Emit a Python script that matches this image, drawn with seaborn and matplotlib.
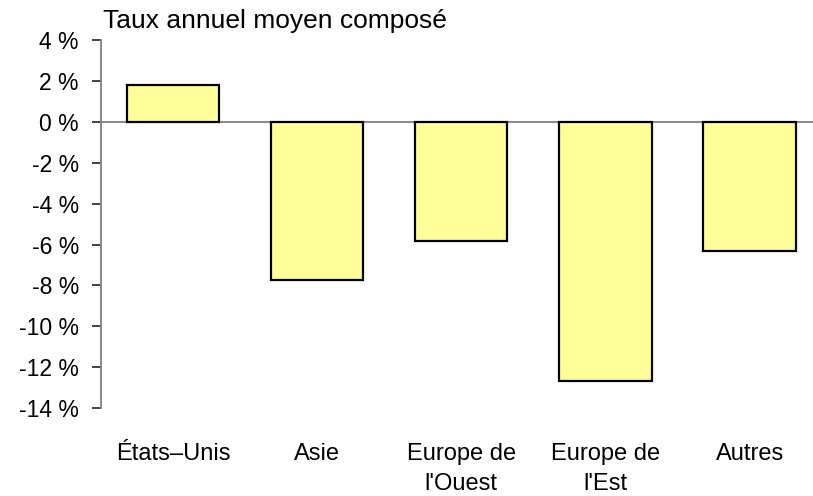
import matplotlib
matplotlib.use("Agg")
import matplotlib.pyplot as plt
import seaborn as sns
import pandas as pd

categories = ["États–Unis", "Asie", "Europe de\nl'Ouest", "Europe de\nl'Est", "Autres"]
values = [1.8, -7.75, -5.85, -12.7, -6.3]
yticks = [4, 2, 0, -2, -4, -6, -8, -10, -12, -14]
title = "Taux annuel moyen composé"

sns.set_theme(style="white")
plt.rcParams['font.family'] = ['Liberation Sans', 'DejaVu Sans']
plt.rcParams['text.color'] = 'black'
plt.rcParams['xtick.color'] = 'black'
plt.rcParams['ytick.color'] = 'black'

df = pd.DataFrame({"region": categories, "taux": values})

fig = plt.figure(figsize=(8.13, 4.96), dpi=100)
ax = fig.add_axes([0.1242, 0.1774, 0.8758, 0.7416])

sns.barplot(data=df, x="region", y="taux", color="#FFFF99", edgecolor="black",
            linewidth=1.6, width=0.64, saturation=1, ax=ax)

ax.axhline(0, color="#808080", lw=1.3, zorder=0.5)
ax.set_ylim(-14, 4)
ax.set_xlim(-0.5, 4.44)
ax.set_yticks(yticks)
ax.set_yticklabels([f"{t} %" for t in yticks], fontsize=16.5)
ax.set_xlabel("")
ax.set_ylabel("")
ax.tick_params(axis="x", length=0, pad=25, labelsize=17)
for lab in ax.get_xticklabels():
    lab.set_linespacing(1.5)
ax.tick_params(axis="y", length=6.5, width=1.2, color="#222222", left=True,
               direction="out", pad=9.4)
for s in ["top", "right", "bottom"]:
    ax.spines[s].set_visible(False)
ax.spines["left"].set_color("#808080")
ax.spines["left"].set_linewidth(1.3)

fig.text(103/813, 1 - 28/496, title, fontsize=19, va="baseline", ha="left")

fig.savefig("out.png", dpi=100)
